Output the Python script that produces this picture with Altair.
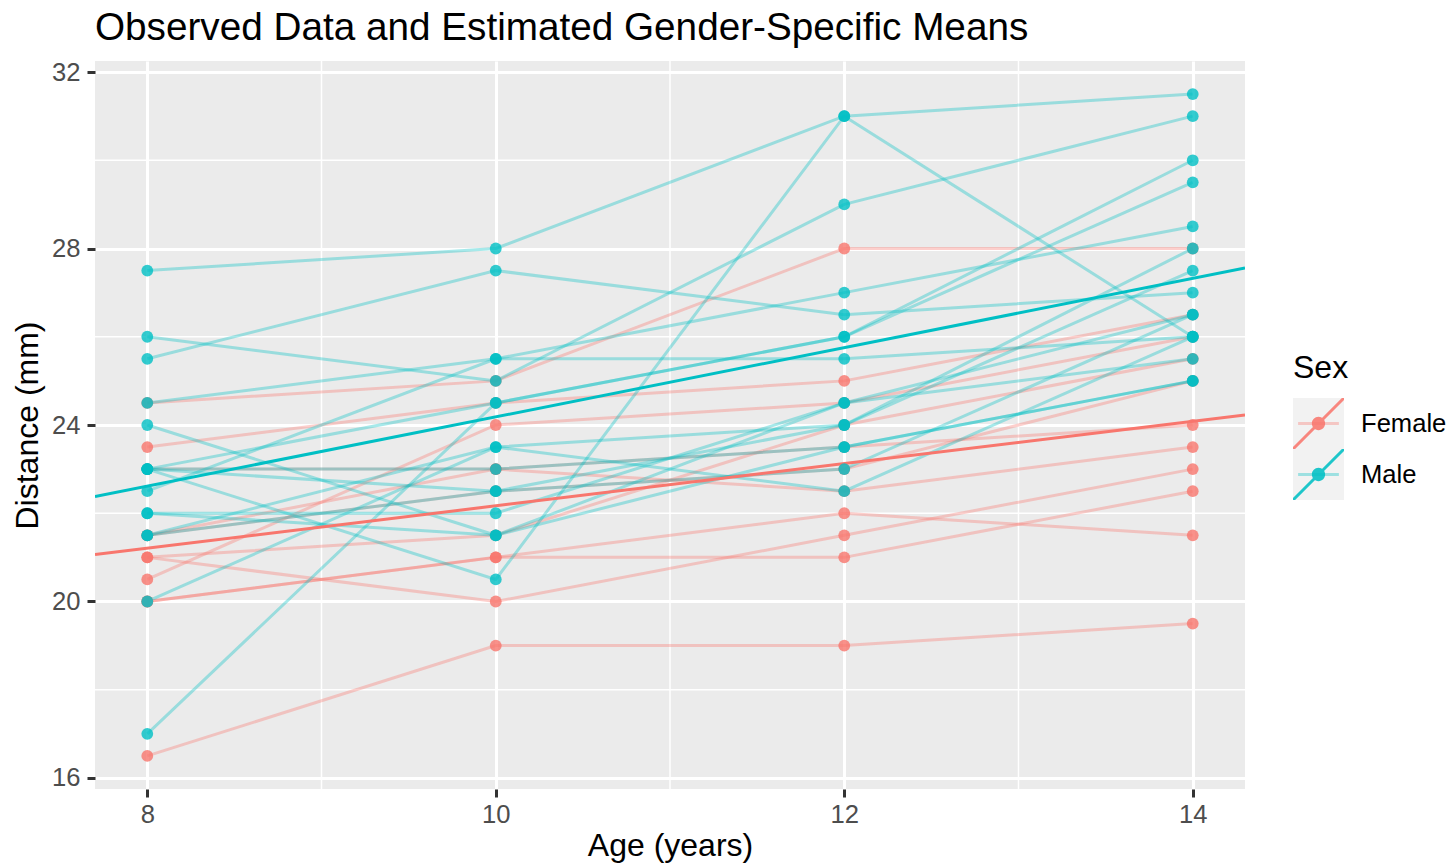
import altair as alt
import pandas as pd

# ---------------- data (Orthodont) ----------------
ages = [8, 10, 12, 14]

male_ids = ["M01", "M02", "M03", "M04", "M05", "M06", "M07", "M08",
            "M09", "M10", "M11", "M12", "M13", "M14", "M15", "M16"]
male_dist = [
    [26.0, 25.0, 29.0, 31.0],
    [21.5, 22.5, 23.0, 26.5],
    [23.0, 22.5, 24.0, 27.5],
    [25.5, 27.5, 26.5, 27.0],
    [20.0, 23.5, 22.5, 26.0],
    [24.5, 25.5, 27.0, 28.5],
    [22.0, 22.0, 24.5, 26.5],
    [24.0, 21.5, 24.5, 25.5],
    [23.0, 20.5, 31.0, 26.0],
    [27.5, 28.0, 31.0, 31.5],
    [23.0, 23.0, 23.5, 25.0],
    [21.5, 23.5, 24.0, 28.0],
    [17.0, 24.5, 26.0, 29.5],
    [22.5, 25.5, 25.5, 26.0],
    [23.0, 24.5, 26.0, 30.0],
    [22.0, 21.5, 23.5, 25.0],
]

female_ids = ["F01", "F02", "F03", "F04", "F05", "F06",
              "F07", "F08", "F09", "F10", "F11"]
female_dist = [
    [21.0, 20.0, 21.5, 23.0],
    [21.0, 21.5, 24.0, 25.5],
    [20.5, 24.0, 24.5, 26.0],
    [23.5, 24.5, 25.0, 26.5],
    [21.5, 23.0, 22.5, 23.5],
    [20.0, 21.0, 21.0, 22.5],
    [21.5, 22.5, 23.0, 25.0],
    [23.0, 23.0, 23.5, 24.0],
    [20.0, 21.0, 22.0, 21.5],
    [16.5, 19.0, 19.0, 19.5],
    [24.5, 25.0, 28.0, 28.0],
]

sexes = ["Female", "Male"]
sex_colors = ["#F8766D", "#00BFC4"]
# estimated gender-specific mean lines (intercept, slope)
mean_intercepts = [17.3727, 16.3406]
mean_slopes = [0.4795, 0.7844]

x_domain = [7.7, 14.3]
y_domain = [15.75, 32.25]
x_ticks = [8, 10, 12, 14]
y_ticks = [16, 20, 24, 28, 32]
x_minor = [9, 11, 13]
y_minor = [18, 22, 26, 30]

# ---------------- tables ----------------
rows = []
for sid, vals in zip(female_ids, female_dist):
    for a, d in zip(ages, vals):
        rows.append({"Subject": sid, "Sex": "Female", "age": a, "distance": d})
for sid, vals in zip(male_ids, male_dist):
    for a, d in zip(ages, vals):
        rows.append({"Subject": sid, "Sex": "Male", "age": a, "distance": d})
obs = pd.DataFrame(rows)

mean_rows = []
for s, b0, b1 in zip(sexes, mean_intercepts, mean_slopes):
    for xe in x_domain:
        mean_rows.append({"Sex": s, "age": xe, "b0": b0, "b1": b1})
means = pd.DataFrame(mean_rows)

minor_x_df = pd.DataFrame({"age": x_minor})
minor_y_df = pd.DataFrame({"distance": y_minor})

FONT = "Liberation Sans"
W, H = 1150, 728

xscale = alt.Scale(domain=x_domain, nice=False, zero=False)
yscale = alt.Scale(domain=y_domain, nice=False, zero=False)

x_axis = alt.Axis(values=x_ticks, format="d", title="Age (years)", grid=True, gridColor="white",
                  gridWidth=3, domain=False, tickColor="#333333", tickWidth=3, tickSize=8,
                  labelFont=FONT, labelFontSize=25.6, labelColor="#4D4D4D", labelPadding=5,
                  titleFont=FONT, titleFontSize=32, titleColor="black",
                  titleFontWeight="normal", titlePadding=3)
y_axis = alt.Axis(values=y_ticks, format="d", title="Distance (mm)", grid=True, gridColor="white",
                  gridWidth=3, domain=False, tickColor="#333333", tickWidth=3, tickSize=8,
                  labelFont=FONT, labelFontSize=25.6, labelColor="#4D4D4D", labelPadding=7,
                  titleFont=FONT, titleFontSize=32, titleColor="black",
                  titleFontWeight="normal", titlePadding=7)

KEY = 51
LX, LY = 1198, 292
TITLE_FS, TITLE_PAD = 32, 13


def leg(path, show=False, **kw):
    # all legend symbols are fill-only shapes spanning the full key square
    common = dict(
        orient="none", legendX=LX, direction="vertical",
        symbolType=path, symbolSize=KEY * KEY, symbolStrokeWidth=0,
        symbolStrokeColor="transparent", rowPadding=0, padding=0,
        labelFont=FONT, labelFontSize=25.6, labelColor="black", labelOffset=17)
    if show:
        return alt.Legend(title="Sex", legendY=LY, titleFont=FONT, titleFontSize=TITLE_FS,
                          titleColor="black", titleFontWeight="normal",
                          titlePadding=TITLE_PAD, **common, **kw)
    return alt.Legend(title=None, legendY=LY + TITLE_FS + TITLE_PAD, labelExpr="''",
                      **common, **kw)


BOUNDS = "M-1,-1M1,1"
SQ = "M-1,-1L1,-1L1,1L-1,1Z"
# faint observed-line key: 3px horizontal band
HORIZ = BOUNDS + "M-0.8,-0.059L0.8,-0.059L0.8,0.059L-0.8,0.059Z"
# point + mean-line key: diagonal 3px band and a circle
DIAG_CIRC = ("M-1,0.917L0.917,-1L1,-1L1,-0.917L-0.917,1L-1,1Z"
             "M0.26,0A0.26,0.26,0,1,1,-0.26,0A0.26,0.26,0,1,1,0.26,0Z")

minor_v = alt.Chart(minor_x_df).mark_rule(color="white", strokeWidth=1.5).encode(
    x=alt.X("age:Q", scale=xscale, axis=x_axis))
minor_h = alt.Chart(minor_y_df).mark_rule(color="white", strokeWidth=1.5).encode(
    y=alt.Y("distance:Q", scale=yscale, axis=y_axis))

# invisible layer that only supplies the grey legend key backgrounds
bg_keys = alt.Chart(obs).transform_calculate(k_bg="1").mark_point(
    filled=True, size=10, opacity=0, color="#F2F2F2").encode(
    x=alt.X("age:Q", scale=xscale),
    y=alt.Y("distance:Q", scale=yscale),
    shape=alt.Shape("Sex:N", scale=alt.Scale(range=[SQ, SQ]),
                    legend=leg(SQ, show=True, symbolFillColor="#F2F2F2", symbolOpacity=1)))

# invisible layer that only supplies the faint-line legend keys
line_keys = alt.Chart(obs).transform_calculate(k_hz="1").mark_point(
    filled=True, size=10, opacity=0).encode(
    x=alt.X("age:Q", scale=xscale),
    y=alt.Y("distance:Q", scale=yscale),
    color=alt.Color("Sex:N", scale=alt.Scale(range=sex_colors),
                    legend=leg(HORIZ, symbolOpacity=0.35)))

obs_lines = alt.Chart(obs).mark_line(strokeWidth=3, opacity=0.35).encode(
    x=alt.X("age:Q", scale=xscale),
    y=alt.Y("distance:Q", scale=yscale),
    detail="Subject:N",
    stroke=alt.Stroke("Sex:N", scale=alt.Scale(range=sex_colors), legend=None))

mean_lines = alt.Chart(means).transform_calculate(
    distance="datum.b0 + datum.b1 * datum.age").mark_line(strokeWidth=3, clip=True).encode(
    x=alt.X("age:Q", scale=xscale),
    y=alt.Y("distance:Q", scale=yscale),
    stroke=alt.Stroke("Sex:N", scale=alt.Scale(range=sex_colors), legend=None))

points = alt.Chart(obs).transform_calculate(pt="1").mark_point(
    filled=True, size=139, opacity=0.8, strokeWidth=0).encode(
    x=alt.X("age:Q", scale=xscale),
    y=alt.Y("distance:Q", scale=yscale),
    fill=alt.Fill("Sex:N", scale=alt.Scale(range=sex_colors),
                  legend=leg(DIAG_CIRC, symbolOpacity=0.88)))

chart = alt.layer(minor_v, minor_h, bg_keys, line_keys, obs_lines, mean_lines, points).properties(
    width=W, height=H,
    background="white",
    title=alt.TitleParams("Observed Data and Estimated Gender-Specific Means",
                          anchor="start", frame="group", font=FONT, fontSize=38.7,
                          fontWeight="normal", color="black", offset=12, baseline="top"),
    autosize=alt.AutoSizeParams(type="none"),
    padding={"left": 87, "top": 53, "right": 203, "bottom": 76},
).configure_view(fill="#EBEBEB", stroke=None)

chart.save("out.html", embed_options={"renderer": "svg", "actions": False})
